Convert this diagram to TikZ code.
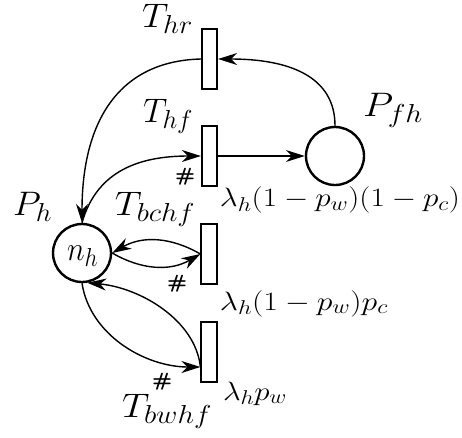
\RequirePackage{fix-cm}
\documentclass[tikz,border=0pt]{standalone}
\usepackage{graphicx}
\usetikzlibrary{arrows.meta}
\DeclareMathSizes{34}{34}{26}{20}
\DeclareMathSizes{26.5}{26.5}{20}{15}
\newcommand{\widebox}[2]{\resizebox{#1pt}{\height}{#2}}
\begin{document}
\begin{tikzpicture}[x=1pt,y=-1pt,
  place/.style={circle,draw,line width=2.4pt,minimum size=58pt,inner sep=0pt},
  trans/.style={rectangle,draw,line width=1.7pt,minimum width=15.5pt,minimum height=59.5pt,inner sep=0pt},
  arc/.style={line width=1.4pt,-{Stealth[length=19pt,width=12pt,inset=6pt]}},
  lbl/.style={font=\fontsize{34}{40}\selectfont,inner sep=0pt,anchor=base},
  rate/.style={font=\fontsize{26.5}{30}\selectfont,inner sep=0pt,anchor=base},
  hash/.style={font=\fontsize{20}{24}\selectfont\sffamily\bfseries,inner sep=0pt}]
\useasboundingbox (0,0) rectangle (462,437);
% places
\node[place] (ph) at (82,253) {};
\node[lbl] (nh) at (82.5,260) {\widebox{31}{$n_h$}};
\node[place] (pfh) at (335,156) {};
% transitions
\node[trans] (thr) at (209.5,59) {};
\node[trans] (thf) at (209.5,156) {};
\node[trans] (tbc) at (209,254) {};
\node[trans] (tbw) at (209,352) {};
% labels
\node[lbl] (lthr) at (167.5,27) {\widebox{51}{$T_{hr}$}};
\node[lbl] (lthf) at (168,122) {\widebox{50}{$T_{hf}$}};
\node[lbl] (ltbc) at (155,215) {\widebox{80}{$T_{bchf}$}};
\node[lbl] (ltbw) at (167,417) {\widebox{90}{$T_{bwhf}$}};
\node[lbl] (lph) at (32.5,215) {\widebox{39}{$P_h$}};
\node[lbl] (lpfh) at (393,116) {\widebox{60}{$P_{fh}$}};
\node[rate] (r1) at (340,206.5) {\widebox{240}{$\lambda_h(1-p_w)(1-p_c)$}};
\node[rate] (r2) at (304,310) {\widebox{168}{$\lambda_h(1-p_w)p_c$}};
\node[rate] (r3) at (255,400) {\widebox{64}{$\lambda_h p_w$}};
\node[hash] (h1) at (185,176.5) {\resizebox*{20pt}{17pt}{\#}};
\node[hash] (h2) at (177,284) {\resizebox*{20pt}{17pt}{\#}};
\node[hash] (h3) at (162,381.5) {\resizebox*{20pt}{17pt}{\#}};
% arcs
\draw[arc] (thf.east) -- (pfh.west);
\draw[arc] (pfh.north) .. controls +(0,-50) and +(70,0) .. (thr.east);
\draw[arc] (thr.west) .. controls +(-81,2) and +(0,-103) .. (ph.north);
\draw[arc] (ph.north) .. controls +(15,-53) and +(-60,0) .. (thf.west);
\draw[arc] (tbc.west) to[out=150,in=30] (ph.east);
\draw[arc] (ph.east) to[out=-30,in=-150] (tbc.west);
\draw[arc] (ph.south) .. controls +(8,52) and +(-55,0) .. ([yshift=-15pt]tbw.west);
\draw[arc] ([yshift=-15pt]tbw.west) .. controls +(-5,-47) and +(53,5) .. (ph.-80);
\end{tikzpicture}
\end{document}
